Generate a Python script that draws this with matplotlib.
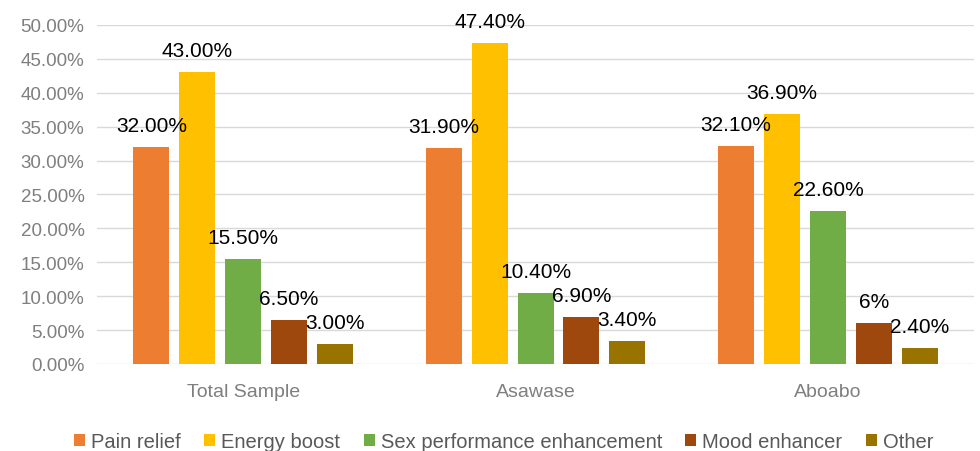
import numpy as np
import matplotlib.pyplot as plt
from matplotlib.ticker import FuncFormatter

plt.rcParams['font.family'] = ['Liberation Sans', 'DejaVu Sans']

groups = ['Total Sample', 'Asawase', 'Aboabo']
series = ['Pain relief', 'Energy boost', 'Sex performance enhancement', 'Mood enhancer', 'Other']
colors = ['#ED7D31', '#FFC000', '#70AD47', '#9E480E', '#997300']

# values per series, one entry per group (percent)
pain_relief = [32.0, 31.9, 32.1]
energy_boost = [43.0, 47.4, 36.9]
sex_perf = [15.5, 10.4, 22.6]
mood = [6.5, 6.9, 6.0]
other = [3.0, 3.4, 2.4]

pain_labels = ['32.00%', '31.90%', '32.10%']
energy_labels = ['43.00%', '47.40%', '36.90%']
sex_labels = ['15.50%', '10.40%', '22.60%']
mood_labels = ['6.50%', '6.90%', '6%']
other_labels = ['3.00%', '3.40%', '2.40%']

values = [pain_relief, energy_boost, sex_perf, mood, other]
labels = [pain_labels, energy_labels, sex_labels, mood_labels, other_labels]

fig = plt.figure(figsize=(9.8, 4.52), dpi=100)
ax = fig.add_axes([0.099, 0.1925, 0.895, 0.75])

x = np.arange(len(groups))
step = 0.157
width = 0.123
for i, (vals, labs) in enumerate(zip(values, labels)):
    pos = x + (i - 2) * step
    bars = ax.bar(pos, np.array(vals) / 100, width, color=colors[i], label=series[i], zorder=3)
    for b, lab in zip(bars, labs):
        ax.annotate(lab, (b.get_x() + b.get_width() / 2, b.get_height()),
                    xytext=(0, 16), textcoords='offset pixels',
                    ha='center', va='baseline', fontsize=15, color='black', zorder=4)

ax.set_xlim(-0.5, 2.5)
ax.set_ylim(0, 0.5)
ax.set_yticks(np.arange(0, 0.501, 0.05))
ax.yaxis.set_major_formatter(FuncFormatter(lambda v, p: f'{v * 100:.2f}%'))
ax.set_xticks(x)
ax.set_xticklabels(groups)
ax.tick_params(axis='both', length=0, labelcolor='#7f7f7f')
ax.tick_params(axis='x', pad=14, labelsize=14)
ax.tick_params(axis='y', pad=9, labelsize=13.5)
ax.grid(axis='y', color='#d9d9d9', linewidth=1, zorder=0)
for s in ax.spines.values():
    s.set_visible(False)

fig.legend(loc='lower center', bbox_to_anchor=(0.514, -0.04), ncol=5, frameon=False,
           fontsize=14.5, labelcolor='#595959', handlelength=0.55, handleheight=0.55,
           handletextpad=0.3, columnspacing=1.15)

fig.savefig('out.png', dpi=100)
